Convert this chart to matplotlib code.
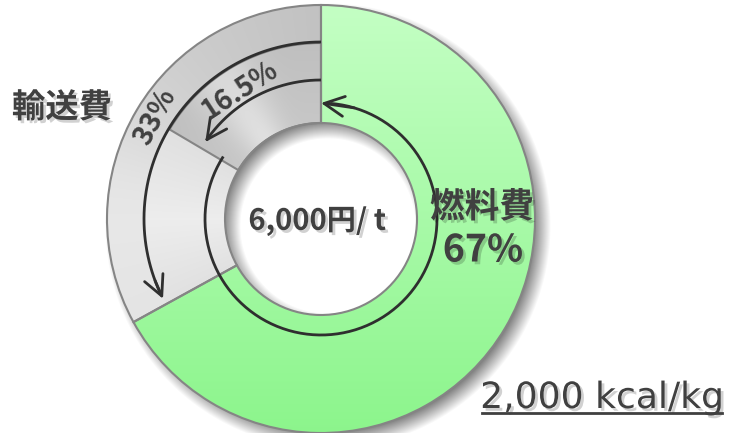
import numpy as np
import matplotlib
matplotlib.use("Agg")
import matplotlib.pyplot as plt
from matplotlib.patches import Wedge
import matplotlib.patheffects as pe

plt.rcParams['font.family'] = ['Noto Sans CJK JP', 'DejaVu Sans']

# shares of the 6,000円/t total
labels = ["燃料費", "輸送費"]
shares = [67, 33]          # %
sub_share = 16.5           # % (inner part of transport cost)
center_text = "6,000円/ t"
heat_text = "2,000 kcal/kg"

W, H = 732, 433
cx, cy = 321, 214
r_out, r_in, r_mid = 214, 96, 176
txt = "#404040"
edge = "#858585"

fig = plt.figure(figsize=(W / 100, H / 100), dpi=100)
ax = fig.add_axes([0, 0, 1, 1])
ax.set_xlim(0, W)
ax.set_ylim(0, H)
ax.set_aspect("equal")
ax.axis("off")

# pixel grid for shading
xx, yy = np.meshgrid(np.arange(W) + 0.5, np.arange(H) + 0.5)

# soft drop shadow of the ring, shifted down-right
d = np.hypot(xx - (cx + 7), yy - (cy - 7))
blur = 9.0
a_out = np.clip((r_out + blur - d) / (2 * blur), 0, 1)
a_in = np.clip((d - (r_in - blur)) / (2 * blur), 0, 1)
shadow = np.zeros((H, W, 4))
shadow[..., 3] = 0.5 * a_out * a_in
ax.imshow(shadow, extent=(0, W, 0, H), origin="lower", zorder=1)

# angles: clockwise from 12 o'clock
fuel_deg = shares[0] / 100 * 360
trans_deg = shares[1] / 100 * 360
sub_deg = sub_share / 100 * 360

green = Wedge((cx, cy), r_out, 90 - fuel_deg, 90, width=r_out - r_in,
              facecolor="none", edgecolor=edge, lw=1.5, zorder=4)
grey = Wedge((cx, cy), r_out, 90, 90 + trans_deg, width=r_out - r_in,
             facecolor="none", edgecolor=edge, lw=1.5, zorder=4)
grey_in = Wedge((cx, cy), r_mid, 90, 90 + sub_deg, width=r_mid - r_in,
                facecolor="none", edgecolor=edge, lw=1.5, zorder=4)

# green: vertical gradient, light at top
t = yy / H
g_img = np.zeros((H, W, 3))
g_img[..., 0] = 0.55 + 0.22 * t
g_img[..., 1] = 0.96 + 0.04 * t
g_img[..., 2] = 0.55 + 0.22 * t
im = ax.imshow(g_img, extent=(0, W, 0, H), origin="lower", zorder=2)
clip = Wedge((cx, cy), r_out, 90 - fuel_deg, 90, width=r_out - r_in,
             transform=ax.transData)
im.set_clip_path(clip)

# grey: metallic shading by angle
ang = np.degrees(np.arctan2(-(xx - cx), yy - cy)) % 360   # ccw from top
rr = np.hypot(xx - cx, yy - cy)
v = 0.76 + 0.13 * np.clip(ang / trans_deg, 0, 1) + 0.05 * np.exp(-((ang - 85) / 25) ** 2)
inner_light = (ang > sub_deg) & (rr < r_mid)
v = np.where(inner_light, 0.93 - 0.05 * np.abs((ang - 90) / 30), v)
dark = (ang <= sub_deg) & (rr < r_mid)
v = np.where(dark, 0.78 + 0.10 * np.exp(-((ang - 35) / 12) ** 2) - 0.03 * (rr - r_in) / 80, v)
s_img = np.dstack([v, v, v])
im2 = ax.imshow(np.clip(s_img, 0, 1), extent=(0, W, 0, H), origin="lower", zorder=2)
clip2 = Wedge((cx, cy), r_out, 90, 90 + trans_deg, width=r_out - r_in,
              transform=ax.transData)
im2.set_clip_path(clip2)

for p in (green, grey, grey_in):
    ax.add_patch(p)


def arc_arrow(r, a0, a1, lw=2):
    # arc from a0 to a1 (degrees, ccw from top) with an open arrowhead at a1
    a = np.radians(np.linspace(a0, a1, 200))
    x = cx - r * np.sin(a)
    y = cy + r * np.cos(a)
    ax.plot(x[:-3], y[:-3], color="#2f2f2f", lw=lw, zorder=6, solid_capstyle="butt")
    ax.annotate("", xy=(x[-1], y[-1]), xytext=(x[-12], y[-12]),
                arrowprops=dict(arrowstyle="->", color="#2f2f2f", lw=lw,
                                mutation_scale=36, shrinkA=0, shrinkB=0),
                zorder=6)


arc_arrow(r_mid + 1, 0, trans_deg - 2)
arc_arrow(139, 0, sub_deg - 3)
arc_arrow(116, sub_deg - 2, 360)

shadow_fx = [pe.SimplePatchShadow(offset=(2, -2), shadow_rgbFace="#000000", alpha=0.18), pe.Normal()]

ax.text(62, 325, labels[1], fontsize=24, fontweight="bold", color=txt,
        ha="center", va="center", zorder=7, path_effects=shadow_fx)
ax.text(482, 226, labels[0], fontsize=25, fontweight="bold", color=txt,
        ha="center", va="center", zorder=7, path_effects=shadow_fx)
ax.text(483, 183, f"{shares[0]}%", fontsize=27, fontweight="bold", color=txt,
        ha="center", va="center", zorder=7, path_effects=shadow_fx)
ax.text(155, 316, f"{shares[1]}%", fontsize=20, fontweight="bold", color=txt,
        ha="center", va="center", rotation=62, zorder=7)
ax.text(240, 343, f"{sub_share}%", fontsize=20, fontweight="bold", color=txt,
        ha="center", va="center", rotation=33, zorder=7)
ax.text(317, 212, center_text, fontsize=21, fontweight="bold", color=txt,
        ha="center", va="center", zorder=7, path_effects=shadow_fx)

kt = ax.text(602, 35, heat_text, fontsize=26, color=txt, family="DejaVu Sans",
             ha="center", va="center", zorder=7, path_effects=shadow_fx)
fig.canvas.draw()
bb = kt.get_window_extent().transformed(ax.transData.inverted())
ax.plot([bb.x0 + 2, bb.x1 - 2], [bb.y0 + 2, bb.y0 + 2], color=txt, lw=2, zorder=7)

fig.savefig("out.png", dpi=100)
